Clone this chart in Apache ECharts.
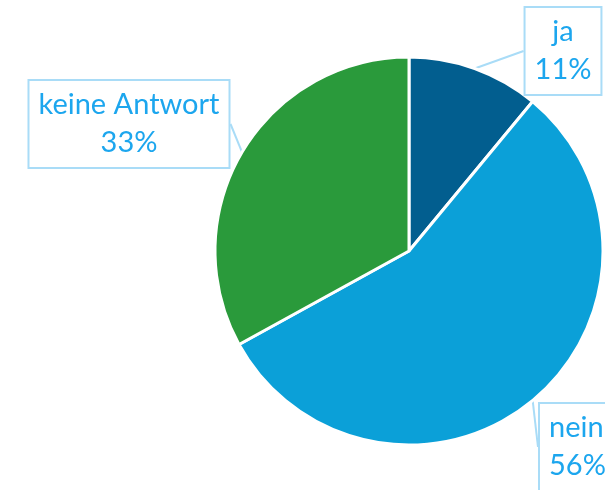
<!DOCTYPE html>
<html>
<head>
<meta charset="utf-8">
<script src="https://cdn.jsdelivr.net/npm/echarts@6/dist/echarts.min.js"></script>
<style>
    html, body { margin: 0; padding: 0; background: #fff; }
    #chart { width: 605px; height: 490px; }
</style>
</head>
<body>
<div id="chart"></div>
<script>
// Daten
var categories = ['ja', 'nein', 'keine Antwort'];
var values = [11, 56, 33];
var colors = ['#025e8f', '#0ba0d8', '#2a9a3b'];

// Positionen der Beschriftungskästen
var labelPos = [
    { x: 563, y: 51, align: 'center', verticalAlign: 'middle' },
    { x: 540, y: 404, align: 'left', verticalAlign: 'top', width: 80 },
    { x: 129, y: 124, align: 'center', verticalAlign: 'middle' }
];

var chart = echarts.init(document.getElementById('chart'));

var data = categories.map(function (name, i) {
    var lbl = { align: labelPos[i].align };
    if (labelPos[i].width) {
        lbl.width = labelPos[i].width;
    }
    return {
        name: name,
        value: values[i],
        itemStyle: { color: colors[i] },
        label: lbl
    };
});

chart.setOption({
    animation: false,
    series: [
        {
            type: 'pie',
            center: [409, 251],
            radius: 194,
            startAngle: 90,
            clockwise: true,
            data: data,
            itemStyle: {
                borderColor: '#fff',
                borderWidth: 3
            },
            label: {
                show: true,
                position: 'outside',
                formatter: '{b}\n{d}%',
                color: '#1ca6ee',
                fontFamily: 'Lato',
                fontSize: 29,
                lineHeight: 38,
                overflow: 'none',
                backgroundColor: '#fff',
                borderColor: '#a9dcf7',
                borderWidth: 2,
                padding: [5, 9]
            },
            labelLine: {
                show: true,
                length: 6,
                length2: 0,
                lineStyle: { color: '#a9dcf7', width: 2 }
            },
            labelLayout: function (params) {
                var p = labelPos[params.dataIndex];
                return {
                    x: p.x,
                    y: p.y,
                    align: p.align,
                    verticalAlign: p.verticalAlign
                };
            }
        }
    ]
});
</script>
</body>
</html>
